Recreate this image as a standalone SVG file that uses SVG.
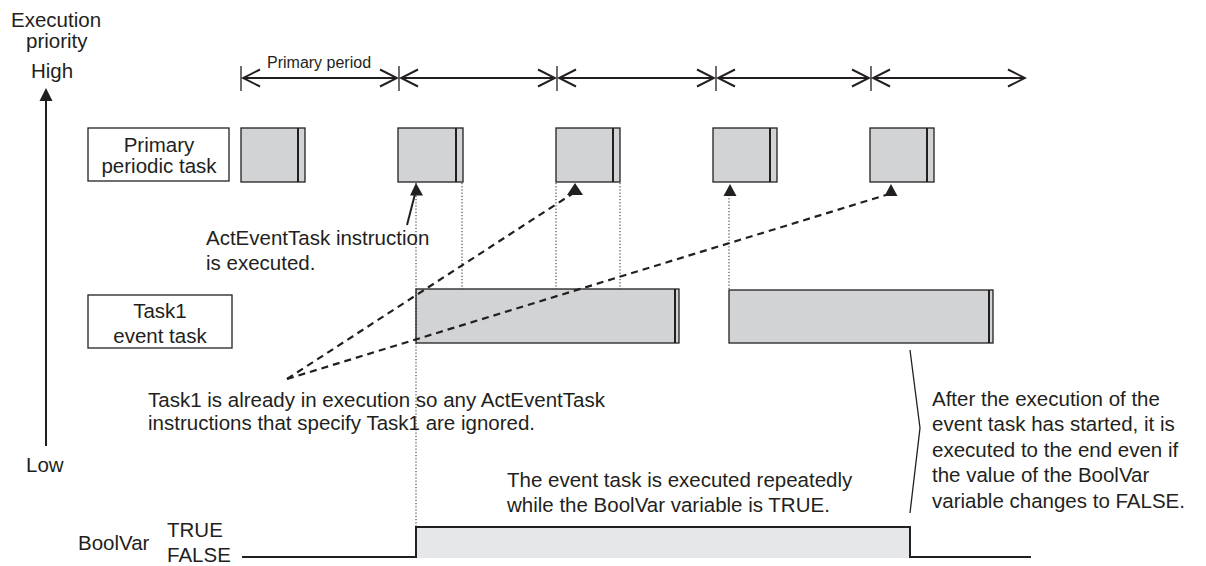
<svg xmlns="http://www.w3.org/2000/svg" width="1206" height="566" viewBox="0 0 1206 566">
<style>
text{font-family:"Liberation Sans",Arial,sans-serif;font-size:20.5px;fill:#231f20}
.sm{font-size:16px}
.mid{text-anchor:middle}
.box{fill:#fff;stroke:#231f20;stroke-width:1.3}
.blk{fill:#d1d3d4;stroke:#231f20;stroke-width:1.3}
.div{stroke:#231f20;stroke-width:2}
.ln{stroke:#231f20;stroke-width:2;fill:none}
.thin{stroke:#231f20;stroke-width:1.3;fill:none}
.dot{stroke:#231f20;stroke-width:1;stroke-dasharray:1.2 2;fill:none}
.dash{stroke:#231f20;stroke-width:2.2;stroke-dasharray:7 5;fill:none}
.tri{fill:#231f20}
</style>
<defs>
<marker id="open" viewBox="0 0 20 20" refX="18" refY="10" markerWidth="20" markerHeight="20" markerUnits="userSpaceOnUse" orient="auto-start-reverse">
<path d="M1,1.5 L18,10 L1,18.5" fill="none" stroke="#231f20" stroke-width="2"/>
</marker>
</defs>

<g id="axis">
<text x="11" y="27">Execution</text>
<text x="26" y="48">priority</text>
<text x="31" y="78">High</text>
<line x1="46" y1="98" x2="46" y2="446" class="ln"/>
<path d="M46,88 L39.5,101 L52.5,101 Z" class="tri"/>
<text x="26" y="472">Low</text>
</g>

<g id="period-markers">
<text x="267" y="68" class="sm">Primary period</text>
<line x1="241" y1="66" x2="241" y2="91" class="thin"/>
<line x1="399" y1="66" x2="399" y2="91" class="thin"/>
<line x1="557" y1="66" x2="557" y2="91" class="thin"/>
<line x1="716" y1="66" x2="716" y2="91" class="thin"/>
<line x1="871" y1="66" x2="871" y2="91" class="thin"/>
<line x1="243" y1="78" x2="397" y2="78" class="ln" marker-start="url(#open)" marker-end="url(#open)"/>
<line x1="401" y1="78" x2="555" y2="78" class="ln" marker-start="url(#open)" marker-end="url(#open)"/>
<line x1="559" y1="78" x2="714" y2="78" class="ln" marker-start="url(#open)" marker-end="url(#open)"/>
<line x1="718" y1="78" x2="869" y2="78" class="ln" marker-start="url(#open)" marker-end="url(#open)"/>
<line x1="873" y1="78" x2="1025" y2="78" class="ln" marker-start="url(#open)" marker-end="url(#open)"/>
</g>

<g id="primary-task-label">
<rect x="88" y="128" width="141" height="53" class="box"/>
<text x="159" y="151.5" class="mid">Primary</text>
<text x="159" y="173" class="mid">periodic task</text>
</g>

<g id="primary-task-runs">
<rect x="241" y="128" width="64" height="54" class="blk"/><line x1="298" y1="128" x2="298" y2="182" class="div"/>
<rect x="398" y="128" width="65" height="54" class="blk"/><line x1="456" y1="128" x2="456" y2="182" class="div"/>
<rect x="556" y="128" width="64" height="54" class="blk"/><line x1="613" y1="128" x2="613" y2="182" class="div"/>
<rect x="713" y="128" width="64" height="54" class="blk"/><line x1="770" y1="128" x2="770" y2="182" class="div"/>
<rect x="870" y="128" width="64" height="54" class="blk"/><line x1="927" y1="128" x2="927" y2="182" class="div"/>
</g>

<g id="event-task-label">
<rect x="88" y="295" width="144" height="53" class="box"/>
<text x="160" y="318" class="mid">Task1</text>
<text x="160" y="343" class="mid">event task</text>
</g>

<g id="event-task-runs">
<rect x="416" y="289" width="263" height="54" class="blk"/><line x1="675" y1="289" x2="675" y2="343" class="div"/>
<rect x="729" y="290" width="264" height="53" class="blk"/><line x1="989" y1="290" x2="989" y2="343" class="div"/>
</g>

<g id="boolvar">
<text x="78" y="550">BoolVar</text>
<text x="167" y="537">TRUE</text>
<text x="167" y="562">FALSE</text>
<rect x="416" y="527" width="494" height="31" fill="#e6e7e8"/>
<path d="M242,557 L416,557 L416,527 L910,527 L910,557 L1031,557" class="ln"/>
</g>

<g id="connectors">
<line x1="416" y1="183" x2="416" y2="527" class="dot"/>
<line x1="462" y1="183" x2="462" y2="289" class="dot"/>
<line x1="556" y1="183" x2="556" y2="289" class="dot"/>
<line x1="620" y1="183" x2="620" y2="289" class="dot"/>
<line x1="729" y1="195" x2="729" y2="290" class="dot"/>
<path d="M416,183 L410,195.5 L423,195.5 Z" class="tri"/>
<line x1="415" y1="194" x2="407" y2="225" class="ln"/>
<path d="M575,183 L567,195 L583,195 Z" class="tri"/>
<path d="M730,184 L723.5,196 L736.5,196 Z" class="tri"/>
<path d="M891,184 L884.5,196 L897.5,196 Z" class="tri"/>
<line x1="287" y1="379" x2="572" y2="194" class="dash"/>
<line x1="287" y1="379" x2="886" y2="195" class="dash"/>
<path d="M910,350 L920,428 L910,513" class="thin"/>
</g>

<g id="annotations">
<text x="206" y="245">ActEventTask instruction</text>
<text x="206" y="270">is executed.</text>
<text x="148" y="407">Task1 is already in execution so any ActEventTask</text>
<text x="148" y="430">instructions that specify Task1 are ignored.</text>
<text x="507" y="487">The event task is executed repeatedly</text>
<text x="507" y="512">while the BoolVar variable is TRUE.</text>
<text x="932" y="406">After the execution of the</text>
<text x="932" y="431">event task has started, it is</text>
<text x="932" y="457">executed to the end even if</text>
<text x="932" y="482">the value of the BoolVar</text>
<text x="932" y="508">variable changes to FALSE.</text>
</g>
</svg>
